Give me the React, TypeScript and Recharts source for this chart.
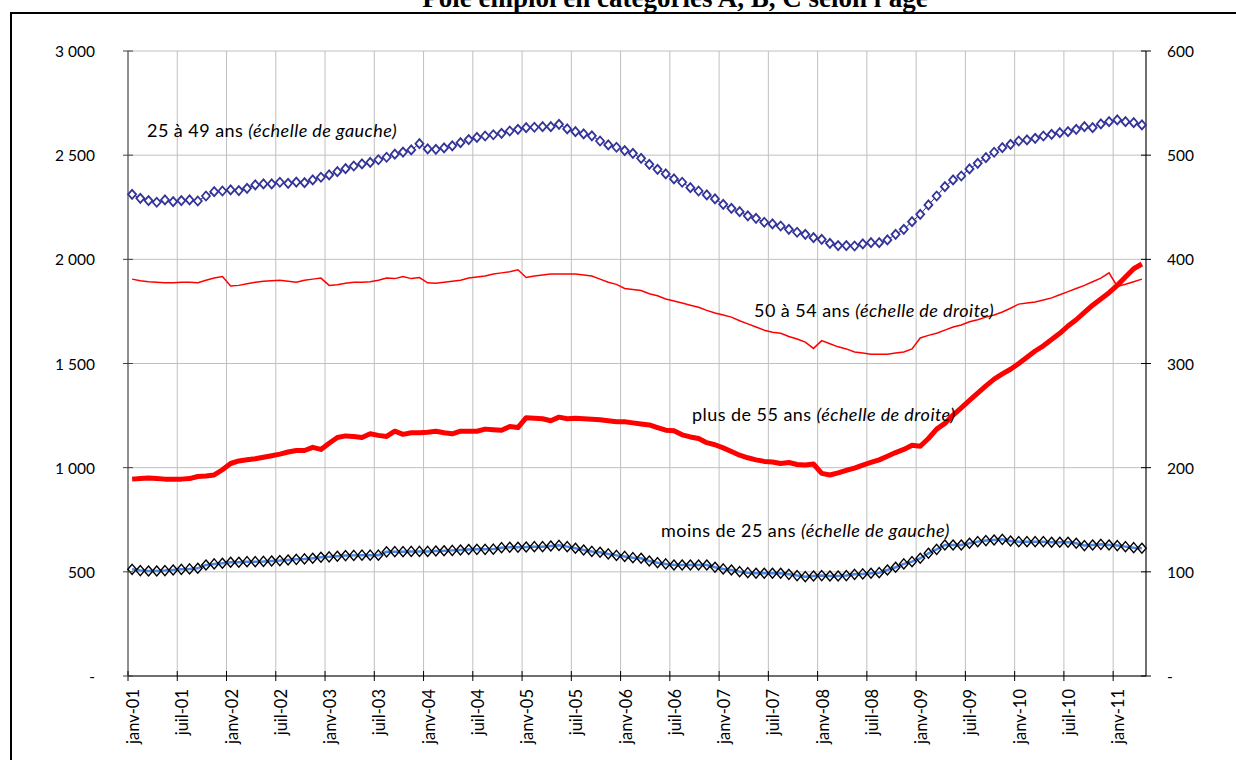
import { LineChart, Line, XAxis, YAxis, CartesianGrid } from "recharts"

// janv-01 .. avr-11, one value per month
const tickLabels = [
  "janv-01", "juil-01", "janv-02", "juil-02", "janv-03", "juil-03", "janv-04",
  "juil-04", "janv-05", "juil-05", "janv-06", "juil-06", "janv-07", "juil-07",
  "janv-08", "juil-08", "janv-09", "juil-09", "janv-10", "juil-10", "janv-11",
]

// left scale
const age25to49 = [
  2312, 2293, 2282, 2274, 2285, 2277, 2282, 2285, 2280, 2304,
  2325, 2328, 2333, 2330, 2341, 2357, 2362, 2362, 2370, 2365,
  2371, 2368, 2381, 2394, 2405, 2421, 2435, 2448, 2458, 2465,
  2478, 2490, 2505, 2515, 2525, 2555, 2530, 2528, 2535, 2545,
  2560, 2575, 2585, 2592, 2598, 2605, 2616, 2624, 2632, 2634,
  2637, 2637, 2648, 2626, 2613, 2602, 2593, 2568, 2549, 2538,
  2522, 2509, 2485, 2456, 2432, 2410, 2386, 2370, 2344, 2328,
  2309, 2290, 2264, 2245, 2229, 2209, 2197, 2178, 2170, 2160,
  2144, 2130, 2120, 2104, 2096, 2077, 2066, 2066, 2064, 2074,
  2080, 2080, 2093, 2120, 2144, 2181, 2216, 2261, 2304, 2349,
  2381, 2400, 2434, 2461, 2488, 2514, 2536, 2552, 2568, 2573,
  2581, 2592, 2600, 2608, 2613, 2624, 2637, 2632, 2650, 2661,
  2669, 2661, 2656, 2645,
]

// right scale
const age50to54 = [
  381, 379.5, 378.5, 378, 377.5, 377.5, 378, 378, 377.5, 380,
  382, 383.5, 374.5, 375, 376.5, 378, 379, 379.5, 380, 379,
  378, 380, 381, 382, 375, 375.5, 377, 378, 378, 378.5,
  380, 382, 381.5, 383.5, 381.5, 382.5, 377.5, 377, 378, 379,
  380, 382, 383, 384, 386, 387, 388, 390, 382.5, 384,
  385, 386, 386, 386, 386, 385, 384, 381, 378, 376,
  372, 371, 370, 367, 365, 362, 360, 358, 356, 354,
  351, 348.5, 346.5, 344.5, 341, 338, 335, 332, 330, 329,
  326, 323.5, 320.5, 314.5, 322, 319, 316, 314, 311, 310,
  309, 309, 309, 310, 311, 314, 324.5, 327, 329, 332,
  335, 337, 340, 342, 344.5, 346.5, 349.5, 353, 357, 358,
  359, 361, 363, 366, 369, 372, 375, 378.5, 382, 387,
  374, 376, 378.5, 381,
]

// right scale
const age55plus = [
  189, 189.5, 190, 189.5, 189, 189, 189, 189.5, 191.5, 192,
  193, 198, 204, 206.5, 207.5, 208.5, 210, 211.5, 213, 215,
  216.5, 216.5, 219.5, 217.5, 223.5, 229, 230.5, 230, 229, 232.5,
  231, 230, 235, 232, 233.5, 233.5, 234, 235, 233.5, 232.5,
  235, 235, 235, 237, 236.5, 236, 239.5, 238.5, 248, 247.5,
  247, 245, 248.5, 247, 247.5, 247, 246.5, 246, 245, 244,
  244, 243, 242, 241, 238.5, 236, 235.5, 231.5, 229.5, 228,
  224, 222, 219, 215.5, 212, 209.5, 207.5, 206, 205.5, 204,
  205, 203, 202.5, 203.5, 194.5, 193, 195, 197.5, 199.5, 202.5,
  205, 207.5, 211, 214.5, 217.5, 221.5, 220.5, 228, 237, 242.5,
  250.5, 257.5, 264.5, 271.5, 278.5, 285, 290, 294.5, 300, 306,
  312, 317, 323, 329, 336, 342, 349, 356, 362, 368,
  375, 383, 391, 395.5,
]

// left scale
const ageUnder25 = [
  512, 506, 504, 504, 506, 509, 512, 514, 517, 533,
  538, 541, 546, 546, 549, 549, 550, 552, 554, 557,
  560, 562, 565, 570, 572, 575, 578, 579, 580, 580,
  580, 596, 597, 597, 598, 598, 598, 600, 601, 603,
  605, 607, 608, 608, 609, 616, 618, 618, 619, 621,
  621, 624, 627, 621, 613, 605, 598, 594, 586, 579,
  574, 568, 565, 552, 544, 538, 533, 533, 533, 533,
  533, 522, 514, 509, 501, 496, 493, 493, 493, 493,
  488, 482, 477, 480, 482, 480, 480, 482, 488, 490,
  493, 496, 509, 522, 538, 549, 565, 589, 608, 629,
  629, 629, 637, 645, 650, 653, 656, 648, 645, 645,
  645, 645, 642, 642, 642, 637, 626, 629, 632, 629,
  626, 621, 616, 613,
]

const leftTicks = [0, 500, 1000, 1500, 2000, 2500, 3000]
const rightTicks = [0, 100, 200, 300, 400, 500, 600]

// points sit in the middle of each month slot
const data = age25to49.map((v, i) => ({
  month: i + 0.5,
  a2549: v,
  a5054: age50to54[i],
  a55: age55plus[i],
  u25: ageUnder25[i],
}))
const xTicks = tickLabels.map((_, k) => k * 6)

const font = "Lato, 'Open Sans', sans-serif"

const fmt = (v: number) => {
  if (v === 0) return "-"
  if (v >= 1000) return `${Math.floor(v / 1000)} ${String(v % 1000).padStart(3, "0")}`
  return String(v)
}

function LeftTick({ x, y, payload }: any) {
  return (
    <g>
      <line x1={x - 5} x2={x + 5} y1={y} y2={y} stroke="#404040" />
      <text x={x - 33} y={y} textAnchor="end" dominantBaseline="central" fontSize={15.5} fontFamily={font} fill="#000">
        {fmt(payload.value)}
      </text>
    </g>
  )
}

function RightTick({ x, y, payload }: any) {
  return (
    <g>
      <line x1={x - 5} x2={x + 5} y1={y} y2={y} stroke="#000" />
      <text x={x + 21} y={y} textAnchor="start" dominantBaseline="central" fontSize={15.5} fontFamily={font} fill="#000">
        {fmt(payload.value)}
      </text>
    </g>
  )
}

function MonthTick({ x, y, payload }: any) {
  return (
    <g>
      <line x1={x} x2={x} y1={y - 5} y2={y + 5} stroke="#000" />
      <text
        transform={`translate(${x + 5},${y + 13}) rotate(-90)`}
        textAnchor="end"
        dominantBaseline="central"
        fontSize={16.5}
        fontFamily={font}
        fill="#000"
      >
        {tickLabels[Math.round(payload.value / 6)]}
      </text>
    </g>
  )
}

const blueDiamond = (p: any) => (
  <path
    key={`b-${p.index}`}
    d={`M${p.cx},${p.cy - 4.5} L${p.cx + 4},${p.cy} L${p.cx},${p.cy + 4.5} L${p.cx - 4},${p.cy} Z`}
    fill="#fff"
    stroke="#333399"
    strokeWidth={1.8}
  />
)

const blackDiamond = (p: any) => (
  <path
    key={`k-${p.index}`}
    d={`M${p.cx},${p.cy - 5} L${p.cx + 4.3},${p.cy} L${p.cx},${p.cy + 5} L${p.cx - 4.3},${p.cy} Z`}
    fill="none"
    stroke="#000"
    strokeWidth={1.4}
  />
)

export default function App() {
  return (
    <div style={{ position: "fixed", left: 0, top: 0, width: 1236, height: 760, overflow: "hidden", background: "#fff" }}>
      <LineChart width={1236} height={760} data={data} margin={{ top: 51, right: 30, left: 68, bottom: 0 }}>
        <CartesianGrid yAxisId="left" stroke="#c0c0c0" />
        <XAxis
          dataKey="month"
          type="number"
          domain={[0, 124]}
          ticks={xTicks}
          interval={0}
          height={84}
          tickSize={0}
          tickMargin={0}
          tick={<MonthTick />}
          stroke="#000"
        />
        <YAxis
          yAxisId="left"
          domain={[0, 3000]}
          ticks={leftTicks}
          interval={0}
          width={60}
          tickSize={0}
          tickMargin={0}
          tick={<LeftTick />}
          stroke="#404040"
        />
        <YAxis
          yAxisId="right"
          orientation="right"
          domain={[0, 600]}
          ticks={rightTicks}
          interval={0}
          width={60}
          tickSize={0}
          tickMargin={0}
          tick={<RightTick />}
          stroke="#000"
        />
        <Line yAxisId="right" type="linear" dataKey="a5054" stroke="#ff0000" strokeWidth={1.5} dot={false} activeDot={false} isAnimationActive={false} />
        <Line yAxisId="right" type="linear" dataKey="a55" stroke="#ff0000" strokeWidth={5} strokeLinejoin="round" dot={false} activeDot={false} isAnimationActive={false} />
        <Line yAxisId="left" type="linear" dataKey="a2549" stroke="#333399" strokeWidth={1} dot={blueDiamond} activeDot={false} isAnimationActive={false} />
        <Line yAxisId="left" type="linear" dataKey="u25" stroke="#4a86e8" strokeWidth={2.5} dot={blackDiamond} activeDot={false} isAnimationActive={false} />
      </LineChart>

      <svg width={1236} height={760} style={{ position: "absolute", left: 0, top: 0, pointerEvents: "none" }}>
        <rect x={11} y={13} width={1240} height={800} fill="none" stroke="#000" strokeWidth={2} />
        <text x={675} y={7} textAnchor="middle" fontFamily="'Liberation Serif', 'Times New Roman', serif" fontWeight="bold" fontSize={27}>
          Pôle emploi en catégories A, B, C selon l'âge
        </text>
        <g fontFamily={font} fontSize={18} letterSpacing={0.45} fill="#000">
          <text x={147} y={137}>
            25 à 49 ans <tspan fontStyle="italic">(échelle de gauche)</tspan>
          </text>
          <text x={754} y={317}>
            50 à 54 ans <tspan fontStyle="italic">(échelle de droite)</tspan>
          </text>
          <text x={692} y={421}>
            plus de 55 ans <tspan fontStyle="italic">(échelle de droite)</tspan>
          </text>
          <text x={661} y={537}>
            moins de 25 ans <tspan fontStyle="italic">(échelle de gauche)</tspan>
          </text>
        </g>
      </svg>
    </div>
  )
}
